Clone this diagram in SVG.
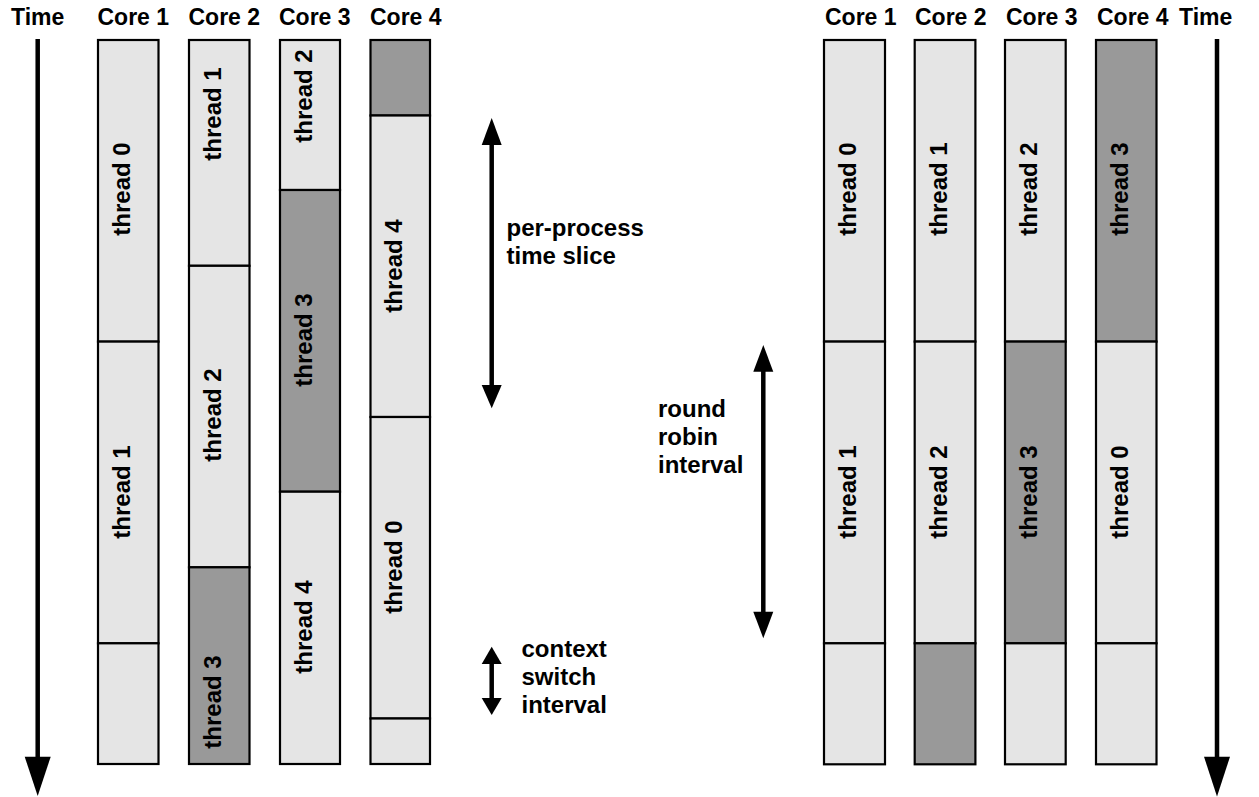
<svg xmlns="http://www.w3.org/2000/svg" width="1259" height="797" viewBox="0 0 1259 797">
<style>
text{font-family:"Liberation Sans",Arial,sans-serif;font-weight:bold;font-size:23px;fill:#000}
.t,.lb{font-size:24px}
.t{text-anchor:middle}
.l{fill:#e5e5e5;stroke:#000;stroke-width:2.2}
.d{fill:#999999;stroke:#000;stroke-width:2.2}
.ax{stroke:#000;stroke-width:4.5;fill:none}
.hd{fill:#000;stroke:none}
</style>
<rect width="1259" height="797" fill="#fff"/>
<g id="headers">
<text x="11" y="25">Time</text>
<text x="97.5" y="25">Core 1</text>
<text x="188.5" y="25">Core 2</text>
<text x="279" y="25">Core 3</text>
<text x="370" y="25">Core 4</text>
<text x="825" y="25">Core 1</text>
<text x="915" y="25">Core 2</text>
<text x="1006" y="25">Core 3</text>
<text x="1097" y="25">Core 4</text>
<text x="1179" y="25">Time</text>
</g>
<g id="left-core1">
<rect class="l" x="98" y="40" width="60.5" height="301.6"/>
<rect class="l" x="98" y="341.6" width="60.5" height="301.7"/>
<rect class="l" x="98" y="643.3" width="60.5" height="120.7"/>
<text class="t" transform="translate(130,189) rotate(-90)">thread 0</text>
<text class="t" transform="translate(130,492) rotate(-90)">thread 1</text>
</g>
<g id="left-core2">
<rect class="l" x="189" y="40" width="60.5" height="225.8"/>
<rect class="l" x="189" y="265.8" width="60.5" height="301.5"/>
<rect class="d" x="189" y="567.3" width="60.5" height="196.7"/>
<text class="t" transform="translate(221,114) rotate(-90)">thread 1</text>
<text class="t" transform="translate(221,415) rotate(-90)">thread 2</text>
<text class="t" transform="translate(221,702) rotate(-90)">thread 3</text>
</g>
<g id="left-core3">
<rect class="l" x="280" y="40" width="60" height="150"/>
<rect class="d" x="280" y="190" width="60" height="301.7"/>
<rect class="l" x="280" y="491.7" width="60" height="272.3"/>
<text class="t" transform="translate(311.5,96) rotate(-90)">thread 2</text>
<text class="t" transform="translate(311.5,340) rotate(-90)">thread 3</text>
<text class="t" transform="translate(311.5,627) rotate(-90)">thread 4</text>
</g>
<g id="left-core4">
<rect class="d" x="370.5" y="40" width="59.5" height="75.5"/>
<rect class="l" x="370.5" y="115.5" width="59.5" height="301.5"/>
<rect class="l" x="370.5" y="417" width="59.5" height="301.5"/>
<rect class="l" x="370.5" y="718.5" width="59.5" height="45.5"/>
<text class="t" transform="translate(402,266) rotate(-90)">thread 4</text>
<text class="t" transform="translate(402,567) rotate(-90)">thread 0</text>
</g>
<g id="right-core1">
<rect class="l" x="824" y="40" width="61" height="301.6"/>
<rect class="l" x="824" y="341.6" width="61" height="301.7"/>
<rect class="l" x="824" y="643.3" width="61" height="121"/>
<text class="t" transform="translate(855.5,189) rotate(-90)">thread 0</text>
<text class="t" transform="translate(855.5,492) rotate(-90)">thread 1</text>
</g>
<g id="right-core2">
<rect class="l" x="914.7" y="40" width="60.7" height="301.6"/>
<rect class="l" x="914.7" y="341.6" width="60.7" height="301.7"/>
<rect class="d" x="914.7" y="643.3" width="60.7" height="121"/>
<text class="t" transform="translate(946.5,189) rotate(-90)">thread 1</text>
<text class="t" transform="translate(946.5,492) rotate(-90)">thread 2</text>
</g>
<g id="right-core3">
<rect class="l" x="1005" y="40" width="60.7" height="301.6"/>
<rect class="d" x="1005" y="341.6" width="60.7" height="301.7"/>
<rect class="l" x="1005" y="643.3" width="60.7" height="121"/>
<text class="t" transform="translate(1036.7,189) rotate(-90)">thread 2</text>
<text class="t" transform="translate(1036.7,492) rotate(-90)">thread 3</text>
</g>
<g id="right-core4">
<rect class="d" x="1096" y="40" width="60.5" height="301.6"/>
<rect class="l" x="1096" y="341.6" width="60.5" height="301.7"/>
<rect class="l" x="1096" y="643.3" width="60.5" height="121"/>
<text class="t" transform="translate(1127.5,189) rotate(-90)">thread 3</text>
<text class="t" transform="translate(1127.5,492) rotate(-90)">thread 0</text>
</g>
<g id="labels">
<text class="lb" x="506.5" y="236">per-process</text>
<text class="lb" x="506.5" y="264">time slice</text>
<text class="lb" x="658" y="417">round</text>
<text class="lb" x="658" y="445">robin</text>
<text class="lb" x="658" y="473">interval</text>
<text class="lb" x="521.5" y="657">context</text>
<text class="lb" x="521.5" y="685">switch</text>
<text class="lb" x="521.5" y="713">interval</text>
</g>
<g id="connectors">
<line class="ax" x1="37.7" y1="39" x2="37.7" y2="760"/>
<polygon class="hd" points="24.7,756.7 50.7,756.7 37.7,796"/>
<line class="ax" x1="1217" y1="39" x2="1217" y2="760"/>
<polygon class="hd" points="1204,756.7 1230,756.7 1217,796.5"/>
<line class="ax" x1="491.7" y1="140" x2="491.7" y2="388"/>
<polygon class="hd" points="491.7,118 481.7,145 501.7,145"/>
<polygon class="hd" points="491.7,408.3 481.7,385 501.7,385"/>
<line class="ax" x1="763.3" y1="365" x2="763.3" y2="618"/>
<polygon class="hd" points="763.3,345 753.3,371.7 773.3,371.7"/>
<polygon class="hd" points="763.3,638.3 753.3,611.7 773.3,611.7"/>
<line class="ax" x1="491.7" y1="660" x2="491.7" y2="702"/>
<polygon class="hd" points="491.7,646.7 481.7,664 501.7,664"/>
<polygon class="hd" points="491.7,715 481.7,698 501.7,698"/>
</g>
</svg>
